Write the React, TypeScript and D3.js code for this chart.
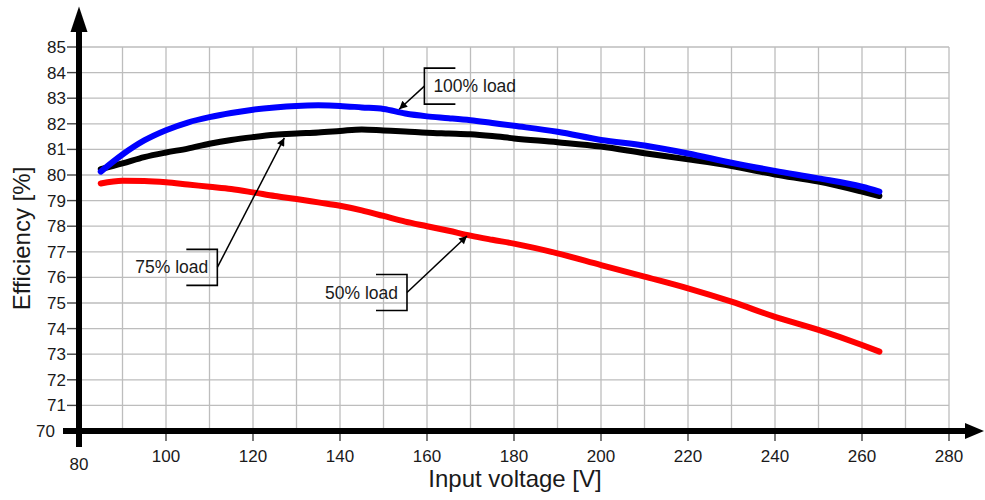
import React from "react";
import * as d3 from "d3";

const voltage = [85, 90, 95, 100, 105, 110, 115, 120, 125, 130, 135, 140, 145, 150, 155, 160, 165, 170, 175, 180, 190, 200, 210, 220, 230, 240, 250, 260, 264];
const load100 = [80.13, 80.8, 81.35, 81.75, 82.05, 82.26, 82.42, 82.55, 82.64, 82.7, 82.72, 82.7, 82.64, 82.58, 82.4, 82.29, 82.22, 82.14, 82.03, 81.92, 81.69, 81.37, 81.15, 80.84, 80.48, 80.16, 79.87, 79.54, 79.35];
const load75 = [80.23, 80.45, 80.7, 80.88, 81.03, 81.22, 81.37, 81.48, 81.57, 81.62, 81.66, 81.72, 81.78, 81.74, 81.7, 81.65, 81.62, 81.59, 81.52, 81.43, 81.28, 81.11, 80.85, 80.61, 80.35, 80.02, 79.74, 79.35, 79.18];
const load50 = [79.67, 79.78, 79.77, 79.72, 79.63, 79.54, 79.45, 79.32, 79.18, 79.06, 78.93, 78.8, 78.62, 78.4, 78.18, 78.0, 77.82, 77.63, 77.47, 77.32, 76.94, 76.48, 76.03, 75.57, 75.05, 74.46, 73.95, 73.36, 73.1];

const xTicks = [80, 100, 120, 140, 160, 180, 200, 220, 240, 260, 280];
const yTicks = [70, 71, 72, 73, 74, 75, 76, 77, 78, 79, 80, 81, 82, 83, 84, 85];
const xGrid = d3.range(90, 281, 10);
const yGrid = d3.range(71, 86, 1);

const seriesNames = ["50% load", "75% load", "100% load"];
const seriesColors = ["#ff0000", "#000000", "#0000ff"];

// annotations: bracket anchor (V, E), arrow tip (V, E), side of text
const annotations = [
  { label: "100% load", anchorV: 159.4, anchorE: 83.47, tipV: 153.6, tipE: 82.57, side: "right" },
  { label: "75% load", anchorV: 111.8, anchorE: 76.39, tipV: 127.2, tipE: 81.45, side: "left" },
  { label: "50% load", anchorV: 155.4, anchorE: 75.41, tipV: 169.2, tipE: 77.62, side: "left" },
];

const W = 985;
const H = 500;
const FONT = "'Liberation Sans', Arial, Helvetica, sans-serif";

export default function App() {
  const x = d3.scaleLinear().domain([80, 280]).range([79, 949]);
  const y = d3.scaleLinear().domain([70, 85]).range([431, 47]);

  const series = [load50, load75, load100];
  const line = d3
    .line<number>()
    .x((_, i) => x(voltage[i]))
    .y((d) => y(d))
    .curve(d3.curveMonotoneX);

  const axisX0 = x(80);
  const axisY0 = y(70);

  return (
    <svg
      width={W}
      height={H}
      style={{ position: "absolute", left: 0, top: 0, background: "#fff" }}
      fontFamily={FONT}
    >
      <defs>
        <marker
          id="arr"
          viewBox="0 0 10 10"
          refX="10"
          refY="5"
          markerWidth="11"
          markerHeight="8"
          markerUnits="userSpaceOnUse"
          orient="auto"
        >
          <path d="M0,0 L10,5 L0,10 z" fill="#000" />
        </marker>
      </defs>
      <rect width={W} height={H} fill="#fff" />

      {/* grid */}
      <g stroke="#bdbdbd" strokeWidth={1.3}>
        {xGrid.map((v) => (
          <line key={"gx" + v} x1={x(v)} x2={x(v)} y1={y(85)} y2={axisY0} />
        ))}
        {yGrid.map((v) => (
          <line key={"gy" + v} x1={axisX0} x2={x(280)} y1={y(v)} y2={y(v)} />
        ))}
      </g>

      {/* y ticks */}
      <g stroke="#444" strokeWidth={1.4}>
        {yTicks.filter((v) => v !== 70).map((v) => (
          <line key={"ty" + v} x1={axisX0 - 12} x2={axisX0} y1={y(v)} y2={y(v)} />
        ))}
        {xTicks.filter((v) => v !== 80).map((v) => (
          <line key={"tx" + v} x1={x(v)} x2={x(v)} y1={axisY0} y2={axisY0 + 10} />
        ))}
      </g>

      {/* y tick labels */}
      <g fontSize={17} fill="#1a1a1a">
        {yTicks.map((v) => (
          <text key={"ly" + v} x={v === 70 ? 55 : 66} y={y(v) + 6} textAnchor="end">
            {v}
          </text>
        ))}
        {xTicks.map((v) => (
          <text key={"lx" + v} x={x(v)} y={v === 80 ? 470 : 462} textAnchor="middle">
            {v}
          </text>
        ))}
      </g>

      {/* curves */}
      {series.map((s, i) => (
        <path
          key={seriesNames[i]}
          d={line(s) || ""}
          fill="none"
          stroke={seriesColors[i]}
          strokeWidth={6}
          strokeLinecap="round"
          strokeLinejoin="round"
        />
      ))}

      {/* axes */}
      <line x1={axisX0} x2={axisX0} y1={447} y2={30} stroke="#000" strokeWidth={6} />
      <path d={`M${axisX0 - 8.5},32 L${axisX0},6.5 L${axisX0 + 8.5},32 Z`} fill="#000" />
      <line x1={63} x2={967} y1={axisY0} y2={axisY0} stroke="#000" strokeWidth={6} />
      <path d={`M965,${axisY0 - 8} L984,${axisY0} L965,${axisY0 + 8} Z`} fill="#000" />

      {/* annotations */}
      {annotations.map((a) => {
        const ax = x(a.anchorV);
        const ay = y(a.anchorE);
        const half = 18;
        const dir = a.side === "right" ? 1 : -1;
        return (
          <g key={a.label}>
            <path
              d={`M${ax + dir * 31},${ay - half} L${ax},${ay - half} L${ax},${ay + half} L${ax + dir * 31},${ay + half}`}
              fill="none"
              stroke="#000"
              strokeWidth={1.6}
            />
            <line
              x1={ax}
              y1={ay}
              x2={x(a.tipV)}
              y2={y(a.tipE)}
              stroke="#000"
              strokeWidth={1.5}
              markerEnd="url(#arr)"
            />
            <text
              x={ax + dir * 9}
              y={ay + 6}
              textAnchor={a.side === "right" ? "start" : "end"}
              fontSize={17.5}
              fill="#1a1a1a"
            >
              {a.label}
            </text>
          </g>
        );
      })}

      {/* axis titles */}
      <text x={515} y={487} textAnchor="middle" fontSize={24} fill="#1a1a1a">
        Input voltage [V]
      </text>
      <text
        transform={`translate(30,238.5) rotate(-90)`}
        textAnchor="middle"
        fontSize={24}
        fill="#1a1a1a"
      >
        Efficiency [%]
      </text>
    </svg>
  );
}
